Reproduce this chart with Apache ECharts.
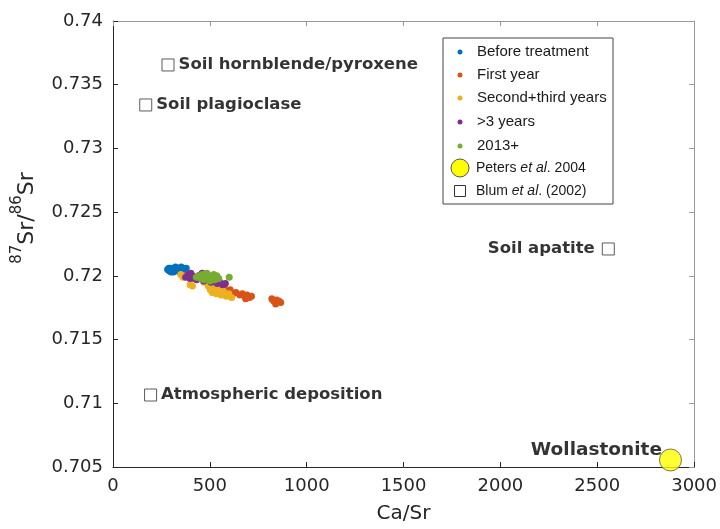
<!DOCTYPE html>
<html>
<head>
<meta charset="utf-8">
<script src="https://cdn.jsdelivr.net/npm/echarts@6/dist/echarts.min.js"></script>
<style>
  html, body { margin: 0; padding: 0; background: #fff; }
  #chart { width: 720px; height: 529px; }
</style>
</head>
<body>
<div id="chart"></div>
<script>
// Ca/Sr vs 87Sr/86Sr, stream water samples grouped by period
const groupNames = ['Before treatment', 'First year', 'Second+third years', '>3 years', '2013+'];
const groupColors = ['#0072BD', '#D95319', '#EDB120', '#7E2F8E', '#77AC30'];

const beforeTreatment = [[282,0.7205],[290,0.7204],[298,0.7206],[305,0.7205],[312,0.7203],[318,0.7206],[325,0.7204],[332,0.7205],[340,0.7206],[347,0.7204],[355,0.7205],[362,0.7206],[370,0.7205],[378,0.7206],[300,0.7203],[322,0.7207],[345,0.7203],[288,0.7206],[366,0.7204],[352,0.7207]];
const firstYear = [[545,0.7190],[560,0.7188],[575,0.7190],[590,0.7187],[605,0.7189],[620,0.7186],[635,0.7187],[655,0.7185],[668,0.7186],[680,0.7184],[692,0.7185],[705,0.7183],[715,0.7184],[685,0.7182],[820,0.7182],[832,0.7180],[845,0.7181],[858,0.7180],[866,0.7179],[840,0.7178],[826,0.7181]];
const secondThirdYears = [[350,0.7201],[362,0.7199],[378,0.7200],[398,0.7193],[410,0.7192],[470,0.7195],[492,0.7192],[502,0.7189],[512,0.7187],[522,0.7191],[533,0.7186],[546,0.7189],[558,0.7185],[570,0.7188],[585,0.7184],[598,0.7186],[612,0.7183],[555,0.7192]];
const overThreeYears = [[375,0.7199],[388,0.7201],[398,0.7198],[410,0.7200],[420,0.7198],[432,0.7197],[442,0.7200],[455,0.7198],[468,0.7196],[480,0.7199],[494,0.7197],[506,0.7195],[520,0.7196],[538,0.7194],[552,0.7195],[566,0.7193],[580,0.7194],[402,0.7202],[460,0.7202]];
const since2013 = [[430,0.7199],[442,0.7200],[452,0.7198],[462,0.7201],[474,0.7199],[485,0.7202],[495,0.7200],[505,0.7198],[515,0.7199],[526,0.7197],[536,0.7200],[546,0.7198],[600,0.7199],[470,0.7197],[500,0.7196],[520,0.7201]];
const groupData = [beforeTreatment, firstYear, secondThirdYears, overThreeYears, since2013];

// End-member minerals (Blum et al. 2002)
const blumNames = ['Soil hornblende/pyroxene', 'Soil plagioclase', 'Atmospheric deposition', 'Soil apatite'];
const blumCaSr = [284, 169, 194, 2557];
const blumSr = [0.73655, 0.73341, 0.71065, 0.72211];
const blumLabelSide = ['right', 'right', 'right', 'left'];

// Wollastonite amendment (Peters et al. 2004)
const petersNames = ['Wollastonite'];
const petersCaSr = [2878];
const petersSr = [0.70555];

// Axis ticks
const xTicks = { min: 0, max: 3000, step: 500 };
const yTicks = { min: 0.705, max: 0.74, step: 0.005 };

const axisColor = '#262626';
const fontFamily = '"DejaVu Sans", sans-serif';
const legendFont = '"Liberation Sans", Arial, sans-serif';

const series = groupNames.map((name, i) => ({
  name: name,
  type: 'scatter',
  data: groupData[i],
  symbol: 'circle',
  symbolSize: 7,
  itemStyle: { color: groupColors[i], opacity: 1 },
  z: 3 + i
}));

series.push({
  name: 'Blum et al. (2002)',
  type: 'scatter',
  symbol: 'rect',
  symbolSize: 12,
  itemStyle: { color: '#fff', borderColor: '#333', borderWidth: 1 },
  data: blumNames.map((n, i) => ({
    name: n,
    value: [blumCaSr[i], blumSr[i]],
    label: {
      show: true,
      position: blumLabelSide[i],
      distance: blumLabelSide[i] === 'left' ? 7 : 4,
      formatter: '{b}',
      fontFamily: fontFamily,
      fontWeight: 'bold',
      fontSize: 16.5,
      color: '#000'
    }
  })),
  z: 10
});

series.push({
  name: 'Peters et al. 2004',
  type: 'scatter',
  symbol: 'circle',
  symbolSize: 22,
  itemStyle: { color: '#FFFF00', borderColor: '#555', borderWidth: 1 },
  data: petersNames.map((n, i) => ({
    name: n,
    value: [petersCaSr[i], petersSr[i]],
    label: {
      show: true,
      position: 'left',
      distance: 0,
      offset: [3, -10],
      formatter: '{b}',
      fontFamily: fontFamily,
      fontWeight: 'bold',
      fontSize: 18.5,
      color: '#000'
    }
  })),
  z: 10
});

// Legend drawn as a boxed list in the upper right of the axes
const legendLeft = 443, legendTop = 38, legendW = 170, legendH = 166;
const legendItems = [];
legendItems.push({
  type: 'rect',
  shape: { x: legendLeft, y: legendTop, width: legendW, height: legendH },
  style: { fill: '#fff', stroke: '#444', lineWidth: 1 },
  z: 20
});
const rowY = [52, 75, 98, 122, 146, 168, 191];
groupNames.forEach((n, i) => {
  legendItems.push({
    type: 'circle', shape: { cx: 460, cy: rowY[i], r: 2.5 },
    style: { fill: groupColors[i] }, z: 21
  });
  legendItems.push({
    type: 'text', x: 477, y: rowY[i],
    style: { text: n, font: '15px ' + legendFont, fill: '#1a1a1a', verticalAlign: 'middle' },
    z: 21
  });
});
legendItems.push({
  type: 'circle', shape: { cx: 460, cy: rowY[5], r: 9 },
  style: { fill: '#FFFF00', stroke: '#555', lineWidth: 1 }, z: 21
});
legendItems.push({
  type: 'text', x: 476, y: rowY[5],
  style: {
    text: '{n|Peters }{i|et al}{n|. 2004}',
    verticalAlign: 'middle',
    rich: {
      n: { fontFamily: legendFont, fontSize: 14, fill: '#1a1a1a' },
      i: { fontFamily: legendFont, fontSize: 14, fontStyle: 'italic', fill: '#1a1a1a' }
    }
  },
  z: 21
});
legendItems.push({
  type: 'rect', shape: { x: 454.5, y: rowY[6] - 5.5, width: 11, height: 11 },
  style: { fill: '#fff', stroke: '#333', lineWidth: 1 }, z: 21
});
legendItems.push({
  type: 'text', x: 476, y: rowY[6],
  style: {
    text: '{n|Blum }{i|et al}{n|. (2002)}',
    verticalAlign: 'middle',
    rich: {
      n: { fontFamily: legendFont, fontSize: 14, fill: '#1a1a1a' },
      i: { fontFamily: legendFont, fontSize: 14, fontStyle: 'italic', fill: '#1a1a1a' }
    }
  },
  z: 21
});

// Rotated y-axis title with superscript mass numbers
legendItems.push({
  type: 'text',
  x: 24, y: 218,
  rotation: Math.PI / 2,
  style: {
    text: '{s|87}{m|Sr/}{s|86}{m|Sr}',
    align: 'center',
    verticalAlign: 'middle',
    rich: {
      s: { fontFamily: fontFamily, fontSize: 15, fill: axisColor, verticalAlign: 'top', lineHeight: 28 },
      m: { fontFamily: fontFamily, fontSize: 22, fill: axisColor, verticalAlign: 'bottom', lineHeight: 28 }
    }
  },
  z: 5
});

const fmtY = v => String(parseFloat(v.toFixed(3)));
const fmtX = v => String(Math.round(v));

const option = {
  animation: false,
  backgroundColor: '#fff',
  grid: { left: 113, right: 23, top: 21, bottom: 62, containLabel: false },
  xAxis: [{
    type: 'value',
    min: xTicks.min, max: xTicks.max, interval: xTicks.step,
    name: 'Ca/Sr', nameLocation: 'middle', nameGap: 37,
    nameTextStyle: { fontFamily: fontFamily, fontSize: 20, color: axisColor },
    axisLine: { show: true, onZero: false, lineStyle: { color: axisColor, width: 1 } },
    axisTick: { show: true, inside: true, length: 5, lineStyle: { color: axisColor } },
    axisLabel: { fontFamily: fontFamily, fontSize: 18, color: axisColor, margin: 10, formatter: fmtX },
    splitLine: { show: false }
  }, {
    type: 'value', position: 'top',
    min: xTicks.min, max: xTicks.max, interval: xTicks.step,
    axisLine: { show: true, onZero: false, lineStyle: { color: '#999', width: 1 } },
    axisTick: { show: true, inside: true, length: 5, lineStyle: { color: '#999' } },
    axisLabel: { show: false }, splitLine: { show: false }
  }],
  yAxis: [{
    type: 'value',
    min: yTicks.min, max: yTicks.max, interval: yTicks.step,
    axisLine: { show: true, onZero: false, lineStyle: { color: axisColor, width: 1 } },
    axisTick: { show: true, inside: true, length: 5, lineStyle: { color: axisColor } },
    axisLabel: { fontFamily: fontFamily, fontSize: 18, color: axisColor, margin: 10, formatter: fmtY },
    splitLine: { show: false }
  }, {
    type: 'value', position: 'right',
    min: yTicks.min, max: yTicks.max, interval: yTicks.step,
    axisLine: { show: true, onZero: false, lineStyle: { color: '#999', width: 1 } },
    axisTick: { show: true, inside: true, length: 5, lineStyle: { color: '#999' } },
    axisLabel: { show: false }, splitLine: { show: false }
  }],
  graphic: legendItems,
  series: series
};

const chart = echarts.init(document.getElementById('chart'), null, { renderer: 'canvas' });
chart.setOption(option);
</script>
</body>
</html>
